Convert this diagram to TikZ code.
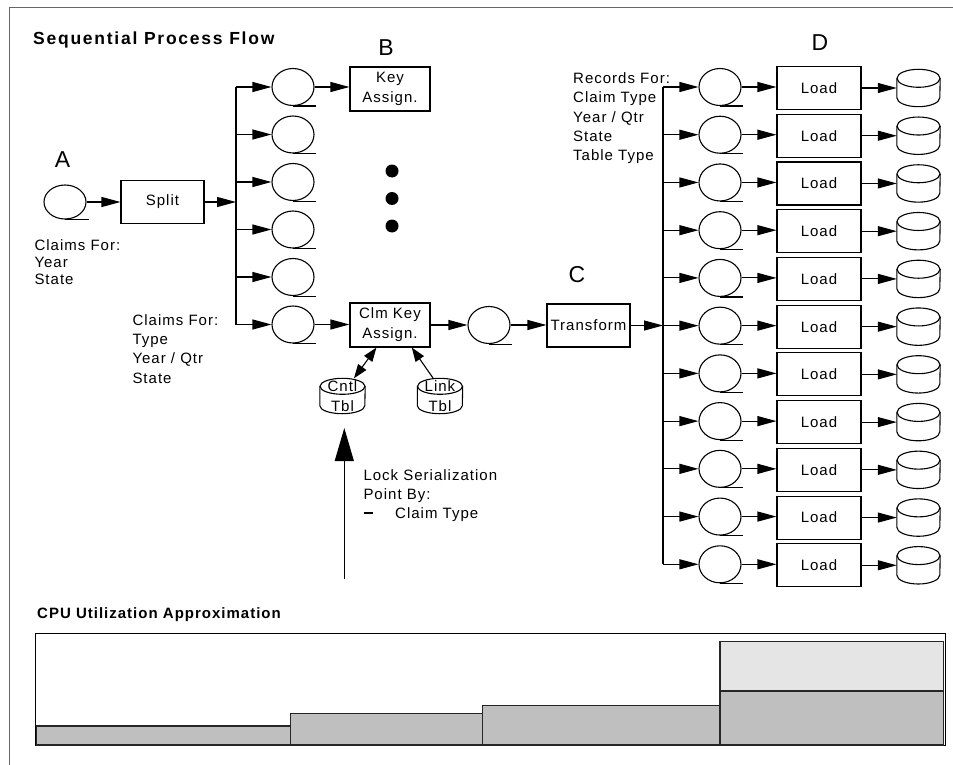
\documentclass[tikz,border=0pt]{standalone}
\usepackage{fontspec}
\setmainfont{Liberation Sans}[LetterSpace=6.7]
\newfontfamily\letterfont{Liberation Sans}
\usetikzlibrary{arrows.meta,calc,shapes.geometric}
\newcommand\drawcyl[3]{%
 \draw[line width=1.1pt] ($(#1.north west)+(0,-#3)$) -- ($(#1.south west)+(0,#3)$) arc[start angle=180,end angle=360,x radius=#2,y radius=#3] -- ($(#1.north east)+(0,-#3)$);
 \draw[line width=1.1pt] ($(#1.north)+(0,-#3)$) ellipse[x radius=#2, y radius=#3];}
\tikzset{
 txt/.style={inner sep=0pt, anchor=north west, align=left},
 queue/.style={ellipse, draw, line width=1.1pt, minimum width=42pt, minimum height=37pt, inner sep=0pt},
 procbox/.style={draw, line width=1.1pt, minimum width=80pt, minimum height=44pt, inner sep=0pt, align=center, font=\fontsize{15}{20}\selectfont},
 cylnode/.style={minimum width=43pt, minimum height=37pt, inner sep=0pt, align=center, font=\fontsize{15}{20}\selectfont},
 arr/.style={line width=1.1pt, -{Triangle[length=19pt,width=10pt]}},
 tailline/.style={line width=1.1pt},
 letter/.style={font=\letterfont\fontsize{23}{23}\selectfont, inner sep=0pt},
 bar/.style={draw=black!85, line width=1.2pt, fill=black!25},
}
\begin{document}
\begin{tikzpicture}[x=1pt,y=1pt]
\useasboundingbox (0,0) rectangle (953,-765);
\draw[black!60, line width=1pt] (9,-765) -- (9,-7.3) -- (953,-7.3);
\node[anchor=base west, inner sep=0pt, font=\fontsize{17.5}{20}\selectfont\bfseries\addfontfeatures{LetterSpace=10}] (title) at (33,-44.3) {Sequential Process Flow};

% A
\node[letter] (la) at (62.5,-160) {A};
\node[queue, minimum height=34pt] (qa) at (65,-202) {};
\draw[tailline] (qa.south) -- ++(24,0);
\node[txt, font=\fontsize{15}{17.3}\selectfont] (ta) at (34.3,-239.3) {Claims For:\\Year\\State};
\node[procbox, minimum width=83pt, minimum height=43pt] (split) at (162.5,-202) {Split};
\draw[arr] (qa) -- (split);

% column of queues
\coordinate (lb) at (236,0);
\foreach \i in {0,...,5} {
  \node[queue] (q\i) at (293,{-87-47.5*\i}) {};
  \draw[tailline] (q\i.south) -- ++(23,0);
  \draw[arr] (lb |- q\i) -- (q\i);
}
\draw[line width=1.1pt] (lb |- q0) -- (lb |- q5);
\draw[arr] (split) -- (split -| lb);
\node[txt, font=\fontsize{15}{19.3}\selectfont] (tb) at (132.3,-314.3) {Claims For:\\Type\\Year / Qtr\\State};

% B
\node[letter] (lbB) at (386,-48) {B};
\node[procbox] (kb) at (390,-89) {Key\\Assign.};
\draw[arr] (q0) -- (q0 -| kb.west);
\foreach \y in {171,198.5,226} \fill (392,-\y) circle[radius=6.5];

\node[procbox] (ck) at (390,-325) {Clm Key\\Assign.};
\draw[arr] (q5) -- (q5 -| ck.west);
\node[queue] (qc) at (489,-325) {};
\draw[tailline] (qc.south) -- ++(23,0);
\draw[arr] (ck) -- (qc);

% C
\node[letter] (lc) at (577,-275) {C};
\node[procbox, minimum width=83pt, minimum height=43pt] (tr) at (588.5,-325.5) {Transform};
\draw[arr] (qc) -- (qc -| tr.west);

% tables
\node[cylnode, minimum width=45pt, minimum height=35pt] (cnt) at (342.5,-396) {Cntl\\Tbl};
\drawcyl{cnt}{22.5}{8}
\node[cylnode, minimum width=45pt, minimum height=35pt] (lnk) at (440,-396) {Link\\Tbl};
\drawcyl{lnk}{22.5}{8}
\draw[line width=1.1pt, {Triangle[length=14pt,width=10pt]}-{Triangle[length=14pt,width=10pt]}] (ck.-121) -- (cnt.57);
\draw[line width=1.1pt, -{Triangle[length=14pt,width=10pt]}] (lnk.111) -- (ck.-46);

% lock serialization
\coordinate (lockS) at (344.3,-579);
\coordinate (lockE) at (344.3,-428);
\draw[line width=1.1pt, -{Triangle[length=33pt,width=19pt]}] (lockS) -- (lockE);
\node[txt, font=\fontsize{15}{19}\selectfont] (lock) at (363.3,-469.3) {Lock Serialization\\Point By:\\\makebox[31.7pt][l]{\rule[4pt]{9pt}{2.8pt}}Claim Type};

% D section
\node[txt, font=\fontsize{15}{19.2}\selectfont] (rec) at (573,-72.6) {Records For:\\Claim Type\\Year / Qtr\\State\\Table Type};
\node[letter] (ld) at (820,-43) {D};
\coordinate (rb) at (663,0);
\foreach \i in {0,...,10} {
  \node[queue] (d\i) at (720,{-87-47.73*\i}) {};
  \draw[tailline] (d\i.south) -- ++(23,0);
  \draw[arr] (rb |- d\i) -- (d\i);
  \node[procbox, minimum width=84pt, minimum height=43pt] (L\i) at (819,{-88-47.73*\i}) {Load};
  \draw[arr] (d\i) -- (d\i -| L\i.west);
  \node[cylnode] (cy\i) at (918.5,{-88-47.73*\i}) {};
  \drawcyl{cy\i}{21.5}{9}
  \draw[arr] (L\i) -- (cy\i);
}
\draw[line width=1.1pt] (rb |- d0) -- (rb |- d10);
\draw[arr] (tr) -- (tr -| rb);

% CPU chart
\node[anchor=base west, inner sep=0pt, font=\fontsize{15}{18}\selectfont\bfseries] (cpu) at (37,-618) {CPU Utilization Approximation};
\draw[line width=1pt] (35.5,-633.5) rectangle (945,-745.5);
\draw[bar] (36.5,-745) rectangle (290.3,-726);
\draw[bar] (290.3,-745) rectangle (482.7,-713.3);
\draw[bar] (482.7,-745) rectangle (720,-705.7);
\draw[bar] (720,-745) rectangle (943.4,-691);
\draw[bar, fill=black!10] (720,-691) rectangle (943.4,-641.7);
\end{tikzpicture}
\end{document}
